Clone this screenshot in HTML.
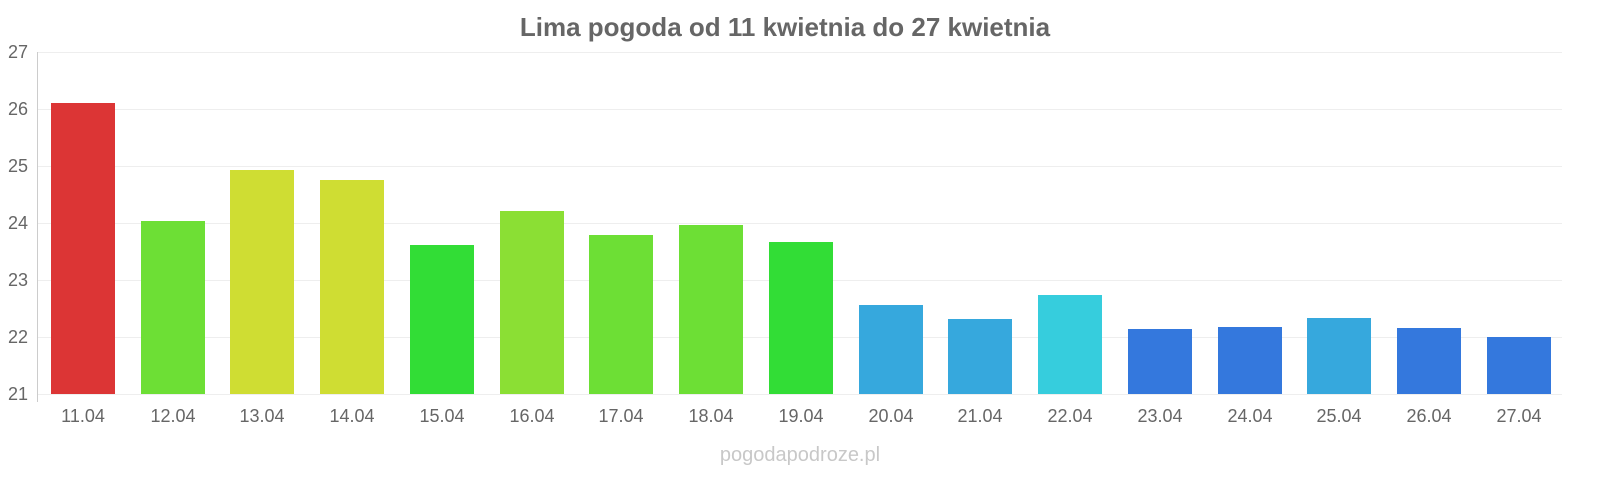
<!DOCTYPE html>
<html><head><meta charset="utf-8"><style>
body{margin:0;background:#fff;}
svg{display:block;font-family:"Liberation Sans",sans-serif;}
</style></head><body>
<svg width="1600" height="480" viewBox="0 0 1600 480" xmlns="http://www.w3.org/2000/svg">
<rect width="1600" height="480" fill="#fff"/>
<text x="785" y="36" text-anchor="middle" font-size="26" font-weight="bold" fill="#666">Lima pogoda od 11 kwietnia do 27 kwietnia</text>
<g stroke="#eeeeee" stroke-width="1">
<line x1="38" x2="1562" y1="52.5" y2="52.5"/>
<line x1="38" x2="1562" y1="109.5" y2="109.5"/>
<line x1="38" x2="1562" y1="166.5" y2="166.5"/>
<line x1="38" x2="1562" y1="223.5" y2="223.5"/>
<line x1="38" x2="1562" y1="280.5" y2="280.5"/>
<line x1="38" x2="1562" y1="337.5" y2="337.5"/>
<line x1="38" x2="1562" y1="394.5" y2="394.5"/>
</g>
<line x1="37.5" x2="37.5" y1="52" y2="402" stroke="#ccc"/>
<g font-size="18" fill="#666" text-anchor="end">
<text x="28" y="58">27</text><text x="28" y="115">26</text><text x="28" y="172">25</text>
<text x="28" y="229">24</text><text x="28" y="286">23</text><text x="28" y="343">22</text><text x="28" y="400">21</text>
</g>
<g>
<rect x="51" y="103" width="64" height="291" fill="#dc3535"/>
<rect x="141" y="221" width="64" height="173" fill="#6ddf35"/>
<rect x="230" y="170" width="64" height="224" fill="#cfdd33"/>
<rect x="320" y="180" width="64" height="214" fill="#cfdd33"/>
<rect x="410" y="245" width="64" height="149" fill="#32dd36"/>
<rect x="500" y="211" width="64" height="183" fill="#8bdf34"/>
<rect x="589" y="235" width="64" height="159" fill="#6ddf35"/>
<rect x="679" y="225" width="64" height="169" fill="#6ddf35"/>
<rect x="769" y="242" width="64" height="152" fill="#32dd36"/>
<rect x="859" y="305" width="64" height="89" fill="#36a8dd"/>
<rect x="948" y="319" width="64" height="75" fill="#36a8dd"/>
<rect x="1038" y="295" width="64" height="99" fill="#36cddd"/>
<rect x="1128" y="329" width="64" height="65" fill="#3478dd"/>
<rect x="1218" y="327" width="64" height="67" fill="#3478dd"/>
<rect x="1307" y="318" width="64" height="76" fill="#36a8dd"/>
<rect x="1397" y="328" width="64" height="66" fill="#3478dd"/>
<rect x="1487" y="337" width="64" height="57" fill="#3478dd"/>
</g>
<g font-size="18" fill="#666" text-anchor="middle">
<text x="83" y="422">11.04</text><text x="173" y="422">12.04</text><text x="262" y="422">13.04</text>
<text x="352" y="422">14.04</text><text x="442" y="422">15.04</text><text x="532" y="422">16.04</text>
<text x="621" y="422">17.04</text><text x="711" y="422">18.04</text><text x="801" y="422">19.04</text>
<text x="891" y="422">20.04</text><text x="980" y="422">21.04</text><text x="1070" y="422">22.04</text>
<text x="1160" y="422">23.04</text><text x="1250" y="422">24.04</text><text x="1339" y="422">25.04</text>
<text x="1429" y="422">26.04</text><text x="1519" y="422">27.04</text>
</g>
<text x="800" y="461" text-anchor="middle" font-size="20" fill="#c8c8c8">pogodapodroze.pl</text>
</svg>
</body></html>
